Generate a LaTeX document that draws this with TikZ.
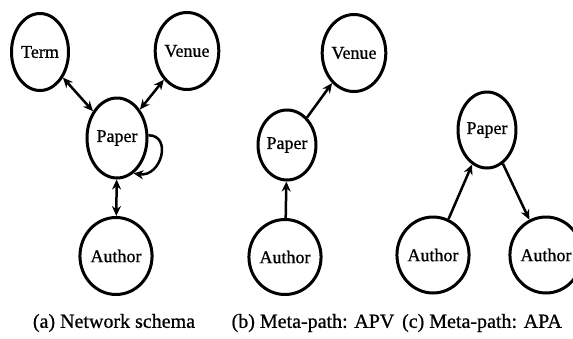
\documentclass[tikz,border=0pt]{standalone}
\usepackage{fontspec}
\setmainfont{Liberation Serif}[FakeBold=0.8]
\usetikzlibrary{shapes.geometric,arrows.meta}
\begin{document}
\begin{tikzpicture}[x=1pt,y=-1pt,
  ent/.style={draw, ellipse, line width=3pt, inner sep=0pt,
    font=\fontsize{18}{18}\selectfont, minimum width=57pt, minimum height=77pt},
  tip/.tip={Stealth[length=10pt,width=9pt]},
  onearrow/.style={line width=2.5pt, -tip},
  twoarrow/.style={line width=2.5pt, tip-tip},
  captext/.style={font=\fontsize{20}{22}\selectfont, inner sep=0pt}
]
\useasboundingbox (0,0) rectangle (573,338);
% (a) Network schema
\node[ent] (term) at (40,52) {Term};
\node[ent] (venA) at (187,51) {Venue};
\node[ent, minimum width=60pt, minimum height=80pt] (papA) at (117,138) {Paper};
\node[ent] (autA) at (116,256) {Author};
\draw[twoarrow] (term) -- (papA);
\draw[twoarrow] (venA) -- (papA);
\draw[twoarrow] (papA) -- (autA);
\draw[onearrow] (papA.5) .. controls +(24,0) and +(28,4) .. (papA.-65);
\node[captext] (capA) at (114,323) {(a) Network schema};
% (b) Meta-path: APV
\node[ent, minimum width=53pt] (venB) at (354,53) {Venue};
\node[ent, minimum width=53pt, minimum height=70pt] (papB) at (287,145) {Paper};
\node[ent, minimum width=59pt, minimum height=75pt] (autB) at (285,257) {Author};
\draw[onearrow] (autB) -- (papB);
\draw[onearrow] (papB) -- (venB);
\node[captext] (capB) at (313,323) {(b) Meta-path: APV};
% (c) Meta-path: APA
\node[ent, minimum width=54pt, minimum height=76pt] (papC) at (487,130) {Paper};
\node[ent, minimum width=56pt, minimum height=76pt] (autC1) at (433,255) {Author};
\node[ent, minimum width=56pt, minimum height=76pt] (autC2) at (546,255) {Author};
\draw[onearrow] (autC1) -- (papC);
\draw[onearrow] (papC) -- (autC2);
\node[captext] (capC) at (482,323) {(c) Meta-path: APA};
\end{tikzpicture}
\end{document}
